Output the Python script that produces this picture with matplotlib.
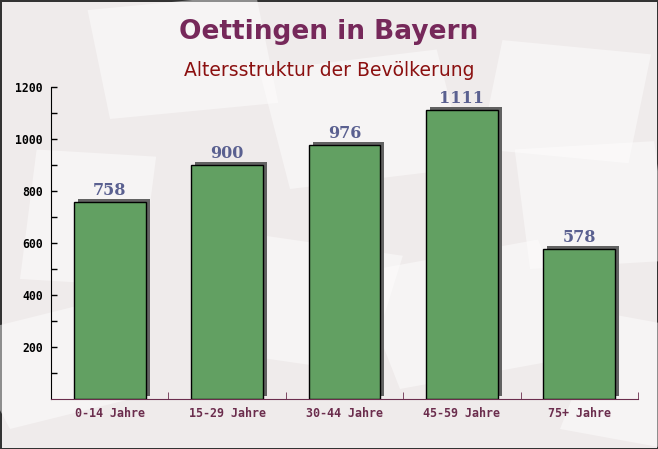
import matplotlib
matplotlib.use("Agg")
import matplotlib.pyplot as plt
import matplotlib.transforms as mtransforms
from matplotlib.patches import Rectangle

# Altersstruktur data
categories = ["0-14 Jahre", "15-29 Jahre", "30-44 Jahre", "45-59 Jahre", "75+ Jahre"]
values = [758, 900, 976, 1111, 578]

fig = plt.figure(figsize=(6.58, 4.49), dpi=100)
fig.patch.set_facecolor("#efebeb")
fig.patch.set_edgecolor("#333333")
fig.patch.set_linewidth(1.0)

# faint envelope-like background decoration (pixel coords: x, y, w, h, angle)
envelopes = [(110, 330, 170, 110, 8), (20, 170, 120, 130, -5), (290, 260, 180, 120, 10),
             (480, 300, 150, 110, -8), (530, 180, 140, 120, 5), (200, 100, 170, 120, -12),
             (400, 60, 190, 120, 15), (10, 20, 130, 100, 20), (560, 20, 110, 120, -15)]
for ex, ey, ew, eh, ang in envelopes:
    fig.patches.append(Rectangle((ex / 658, ey / 449), ew / 658, eh / 449, angle=ang,
                                 transform=fig.transFigure, facecolor="white",
                                 edgecolor="none", alpha=0.45, zorder=-1))

ax = fig.add_axes([51 / 658, 50 / 449, 587 / 658, 312 / 449])
ax.set_facecolor("none")

x = list(range(len(categories)))
width = 0.61

# shadow bars, shifted a few pixels up/right
shadow = ax.transData + mtransforms.ScaledTranslation(4 / 100, 3 / 100, fig.dpi_scale_trans)
ax.bar(x, values, width=width, color="#626262", transform=shadow, zorder=1)
ax.bar(x, values, width=width, color="#62a062", edgecolor="black", linewidth=1, zorder=2)

for xi, v in zip(x, values):
    ax.annotate(str(v), (xi, v), xytext=(0, 2), textcoords="offset points",
                ha="center", va="bottom", fontsize=11.5, fontweight="bold",
                color="#5a6090", family="DejaVu Serif")

ax.set_xlim(-0.5, len(categories) - 0.5)
ax.set_ylim(0, 1200)

ax.set_yticks(range(200, 1201, 200))
ax.set_yticks(range(100, 1200, 200), minor=True)
ax.tick_params(axis="y", which="both", direction="in", length=4, width=1,
               labelsize=8.3, colors="black", pad=6)
for lab in ax.get_yticklabels():
    lab.set_family("DejaVu Sans Mono")
    lab.set_fontweight("bold")

ax.set_xticks(x)
ax.set_xticklabels(categories, family="DejaVu Sans Mono", fontweight="bold",
                   fontsize=8.4, color="#6b2d4d")
ax.tick_params(axis="x", which="major", length=0, pad=6)
ax.set_xticks([i + 0.5 for i in range(-1, len(categories))], minor=True)
ax.tick_params(axis="x", which="minor", direction="in", length=5, color="#6b2d4d")

for s in ["top", "right"]:
    ax.spines[s].set_visible(False)
ax.spines["left"].set_color("black")
ax.spines["bottom"].set_color("#6b2d4d")

fig.text(0.5, 0.929, "Oettingen in Bayern", ha="center", va="center",
         fontsize=19, fontweight="bold", color="#76285a")
fig.text(0.5, 0.844, "Altersstruktur der Bevölkerung", ha="center", va="center",
         fontsize=13.5, color="#8b1010")

fig.savefig("out.png", dpi=100, facecolor=fig.get_facecolor(), edgecolor=fig.get_edgecolor())
